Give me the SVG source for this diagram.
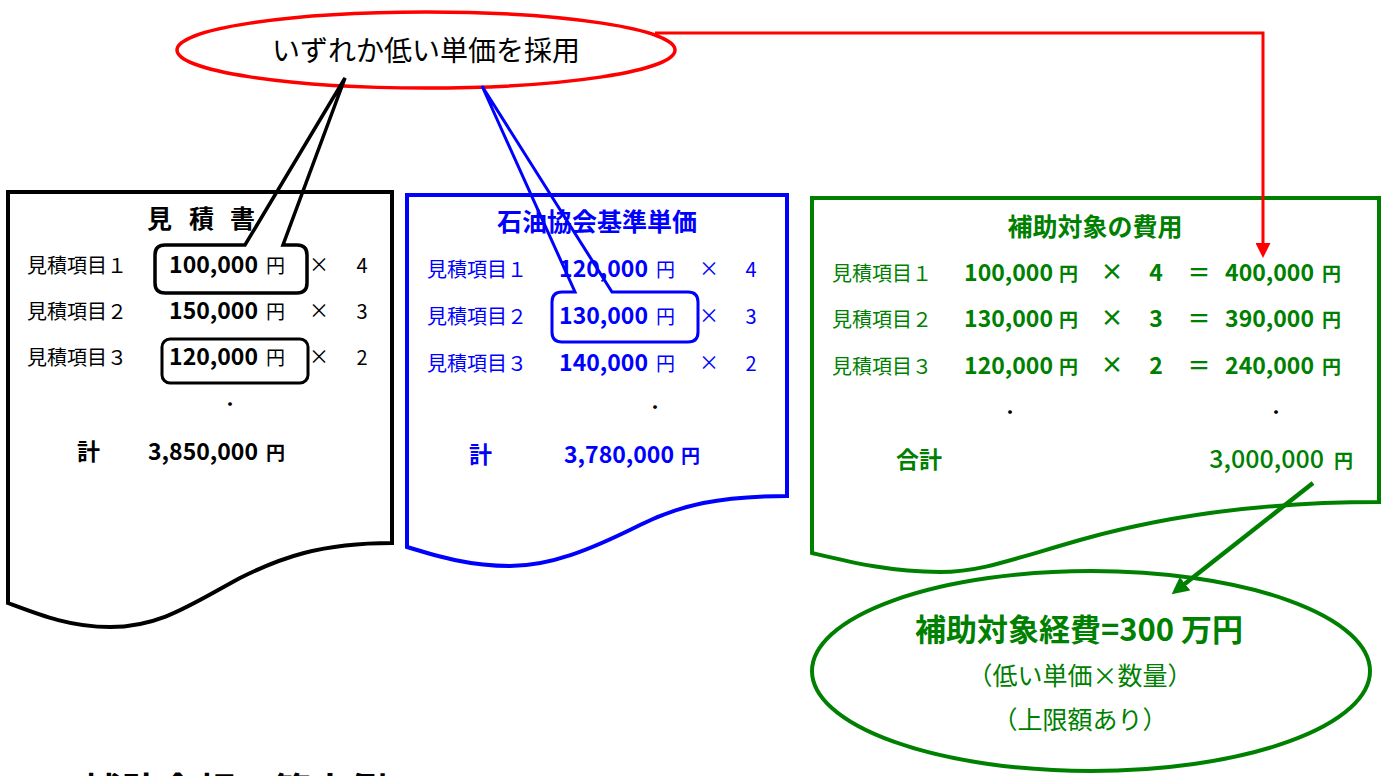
<svg xmlns="http://www.w3.org/2000/svg" width="1383" height="776" viewBox="0 0 1383 776">
<style>
text{font-family:"Noto Sans CJK JP","Noto Sans",sans-serif}
.lb{font-size:20px}
.nm{font-size:23px;font-weight:bold}
.yen{font-size:19px}
.yb{font-size:19px;font-weight:bold}
.ttl{font-size:25px;font-weight:bold}
.mid{text-anchor:middle}
.end{text-anchor:end}
.k{fill:#000}
.b{fill:#0000ff}
.g{fill:#008000}
.dot{font-size:18px;fill:#000;text-anchor:middle}
</style>
<defs>
<marker id="arR" viewBox="0 0 10 10" refX="6" refY="5" markerUnits="userSpaceOnUse" markerWidth="15" markerHeight="15" orient="auto"><path d="M0,0 L10,5 L0,10 Z" fill="#ff0000"/></marker>
<marker id="arG" viewBox="0 0 10 10" refX="6" refY="5" markerUnits="userSpaceOnUse" markerWidth="17" markerHeight="17" orient="auto"><path d="M0,0 L10,5 L0,10 Z" fill="#008000"/></marker>
</defs>
<rect width="1383" height="776" fill="#fff"/>

<g id="doc-estimate">
<path d="M8,192 H392 V543 C320,543 280,558 240,578 C190,605 160,627 110,627 C70,627 40,615 8,603 Z" fill="#fff" stroke="#000" stroke-width="4"/>
<text class="ttl k" x="147 172 189 214 230" y="228">見 積 書</text>
<text class="lb k" x="27" y="273">見積項目１</text>
<text class="lb k" x="27" y="319">見積項目２</text>
<text class="lb k" x="27" y="365">見積項目３</text>
<text class="nm k end" x="258" y="273">100,000</text><text class="yen k" x="266" y="273">円</text>
<text class="nm k end" x="258" y="319">150,000</text><text class="yen k" x="266" y="319">円</text>
<text class="nm k end" x="258" y="365">120,000</text><text class="yen k" x="266" y="365">円</text>
<text class="lb k mid" x="319" y="272">×</text><text class="lb k mid" x="362" y="273">4</text>
<text class="lb k mid" x="319" y="318">×</text><text class="lb k mid" x="362" y="319">3</text>
<text class="lb k mid" x="319" y="364">×</text><text class="lb k mid" x="362" y="365">2</text>
<text class="dot" x="230" y="411">・</text>
<text class="nm k" x="77" y="460">計</text>
<rect x="162" y="339" width="146" height="44" rx="8" fill="none" stroke="#000" stroke-width="3"/>
<text class="nm k end" x="258" y="460">3,850,000</text><text class="yb k" x="266" y="460">円</text>
</g>

<g id="doc-standard">
<path d="M407,195 H787 V496 C720,496 680,505 640,525 C590,550 550,566 510,566 C470,566 440,557 407,547 Z" fill="#fff" stroke="#0000ff" stroke-width="4"/>
<text class="ttl b mid" x="597" y="231">石油協会基準単価</text>
<text class="lb b" x="427" y="277">見積項目１</text>
<text class="lb b" x="427" y="324">見積項目２</text>
<text class="lb b" x="427" y="371">見積項目３</text>
<text class="nm b end" x="648" y="277">120,000</text><text class="yen b" x="656" y="277">円</text>
<text class="nm b end" x="648" y="324">130,000</text><text class="yen b" x="656" y="324">円</text>
<text class="nm b end" x="648" y="371">140,000</text><text class="yen b" x="656" y="371">円</text>
<text class="lb b mid" x="709" y="276">×</text><text class="lb b mid" x="751" y="277">4</text>
<text class="lb b mid" x="709" y="323">×</text><text class="lb b mid" x="751" y="324">3</text>
<text class="lb b mid" x="709" y="370">×</text><text class="lb b mid" x="751" y="371">2</text>
<text class="dot" x="655" y="414">・</text>
<text class="nm b" x="469" y="463">計</text>
<text class="nm b end" x="674" y="463">3,780,000</text><text class="yb b" x="681" y="463">円</text>
</g>

<g id="doc-subsidy">
<path d="M812,198 H1379 V502 C1250,502 1150,520 1080,540 C1010,560 980,572 940,572 C890,572 850,562 812,553 Z" fill="#fff" stroke="#008000" stroke-width="4"/>
<text class="ttl g mid" x="1095" y="236">補助対象の費用</text>
<text class="lb g" x="832" y="281">見積項目１</text>
<text class="lb g" x="832" y="327">見積項目２</text>
<text class="lb g" x="832" y="374">見積項目３</text>
<text class="nm g end" x="1053" y="281">100,000</text><text class="yb g" x="1059" y="281">円</text>
<text class="nm g end" x="1053" y="327">130,000</text><text class="yb g" x="1059" y="327">円</text>
<text class="nm g end" x="1053" y="374">120,000</text><text class="yb g" x="1059" y="374">円</text>
<text class="nm g mid" x="1112" y="280">×</text><text class="nm g mid" x="1156" y="281">4</text><text class="nm g mid" x="1199" y="281">＝</text>
<text class="nm g mid" x="1112" y="326">×</text><text class="nm g mid" x="1156" y="327">3</text><text class="nm g mid" x="1199" y="327">＝</text>
<text class="nm g mid" x="1112" y="373">×</text><text class="nm g mid" x="1156" y="374">2</text><text class="nm g mid" x="1199" y="374">＝</text>
<text class="nm g end" x="1314" y="281">400,000</text><text class="yb g" x="1322" y="281">円</text>
<text class="nm g end" x="1314" y="327">390,000</text><text class="yb g" x="1322" y="327">円</text>
<text class="nm g end" x="1314" y="374">240,000</text><text class="yb g" x="1322" y="374">円</text>
<text class="dot" x="1010" y="419">・</text>
<text class="dot" x="1276" y="419">・</text>
<text class="nm g" x="896" y="468">合計</text>
<text class="g end" x="1324" y="468" style="font-size:25px;font-weight:500">3,000,000</text><text class="yb g" x="1334" y="468">円</text>
</g>

<g id="ellipse-select">
<ellipse cx="426" cy="50" rx="249" ry="38" fill="#fff" stroke="#ff0000" stroke-width="3.5"/>
<text x="426" y="61" class="mid" style="font-size:28px;fill:#000">いずれか低い単価を採用</text>
</g>

<g id="ellipse-result">
<ellipse cx="1091" cy="671" rx="279" ry="100" fill="#fff" stroke="#008000" stroke-width="4"/>
<text class="g mid" x="1079" y="641" style="font-size:31px;font-weight:bold">補助対象経費=300 万円</text>
<text class="g mid" x="1080" y="685" style="font-size:25px">（低い単価×数量）</text>
<text class="g mid" x="1080" y="729" style="font-size:25px">（上限額あり）</text>
</g>

<g id="connectors" fill="none">
<path d="M165,245 L245,245 L345,78 L283,245 L297,245 Q307,245 307,255 L307,283 Q307,293 297,293 L165,293 Q155,293 155,283 L155,255 Q155,245 165,245 Z" stroke="#000" stroke-width="3.5" stroke-linejoin="miter"/>
<path d="M562,292 L575,292 L482,86 L612,292 L688,292 Q698,292 698,302 L698,332 Q698,342 688,342 L562,342 Q552,342 552,332 L552,302 Q552,292 562,292 Z" stroke="#0000ff" stroke-width="3"/>
<polyline points="655,33 1263,33 1263,252" stroke="#ff0000" stroke-width="3" marker-end="url(#arR)"/>
<line x1="1313" y1="483" x2="1177" y2="590" stroke="#008000" stroke-width="4.5" marker-end="url(#arG)"/>
</g>

<text x="45" y="805" style="font-size:38px;font-weight:bold;fill:#000">※補助金額の算定例</text>
</svg>
